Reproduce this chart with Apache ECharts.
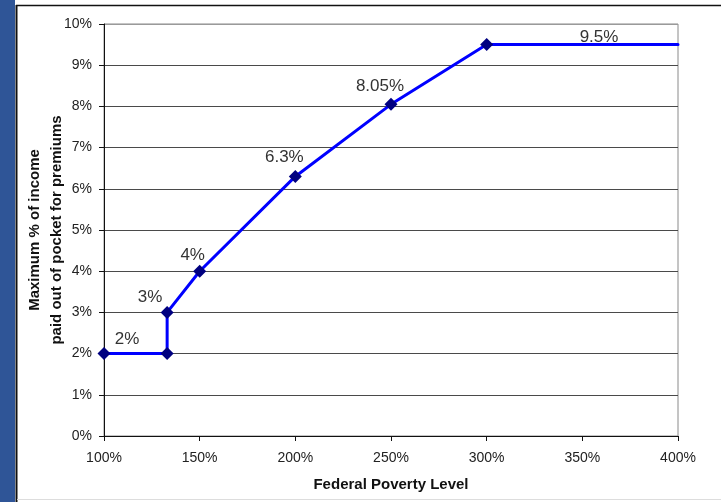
<!DOCTYPE html>
<html>
<head>
<meta charset="utf-8">
<script src="https://cdn.jsdelivr.net/npm/echarts@6/dist/echarts.min.js"></script>
<style>
  html, body { margin: 0; padding: 0; background: #fff; }
  #chart { width: 721px; height: 502px; }
</style>
</head>
<body>
<div id="chart"></div>
<script>
// federal poverty level (%) and max share of income paid for premiums (%)
var fplLevels = [100, 133, 133, 150, 200, 250, 300, 400];
var maxPct = [2, 2, 3, 4, 6.3, 8.05, 9.5, 9.5];
var pointLabels = ['2%', '', '3%', '4%', '6.3%', '8.05%', '', '9.5%'];
var yTicks = [0, 10, 1];      // min, max, step
var xTicks = [100, 400, 50];  // min, max, step
var yTitle = 'Maximum % of income\npaid out of pocket for premiums';

var myChart = echarts.init(document.getElementById('chart'));

// where each label sits relative to its point
var labelOffsets = [[23, 6], [0, 0], [-17, 5], [-7, 4], [-11, 1], [-11, 2], [0, 0], [-79, 7]];

var data = fplLevels.map(function (x, i) {
    var item = {value: [x, maxPct[i]]};
    if (i === fplLevels.length - 1) {
        // line end has no marker, only the label
        item.symbolSize = 1;
        item.itemStyle = {color: '#0000ff'};
    }
    if (pointLabels[i]) {
        item.label = {show: true, formatter: pointLabels[i], offset: labelOffsets[i]};
    }
    return item;
});

var gridColors = [];
for (var i = 0; i < 10; i++) gridColors.push('#4a4a4a');
gridColors.push('#9a9a9a');

myChart.setOption({
    animation: false,
    textStyle: {fontFamily: 'Liberation Sans, Arial, sans-serif'},
    graphic: [
        {type: 'rect', shape: {x: 0, y: 0, width: 15, height: 502}, style: {fill: '#2f5597'}, silent: true},
        {type: 'line', shape: {x1: 16.5, y1: 5, x2: 16.5, y2: 502}, style: {stroke: '#111', lineWidth: 2}, silent: true},
        {type: 'line', shape: {x1: 16, y1: 5.5, x2: 721, y2: 5.5}, style: {stroke: '#111', lineWidth: 1.5}, silent: true},
        {type: 'line', shape: {x1: 17, y1: 499.5, x2: 721, y2: 499.5}, style: {stroke: '#dddddd', lineWidth: 1}, silent: true},
        {
            type: 'text', x: 46, y: 230, rotation: Math.PI / 2, silent: true,
            style: {
                text: yTitle, align: 'center', verticalAlign: 'middle',
                font: 'bold 15px "Liberation Sans", Arial, sans-serif',
                lineHeight: 22, fill: '#111'
            }
        }
    ],
    grid: {
        left: 104, right: 43, top: 24, bottom: 66,
        show: true, borderColor: '#8a8a8a', borderWidth: 1,
        containLabel: false
    },
    xAxis: {
        type: 'value',
        min: xTicks[0], max: xTicks[1], interval: xTicks[2],
        name: 'Federal Poverty Level',
        nameLocation: 'middle',
        nameGap: 41,
        nameTextStyle: {fontWeight: 'bold', fontSize: 15, color: '#111'},
        axisLine: {show: true, lineStyle: {color: '#111', width: 1}},
        axisTick: {show: true, inside: false, length: 5, lineStyle: {color: '#111'}},
        axisLabel: {formatter: '{value}%', fontSize: 14, color: '#222', margin: 15},
        splitLine: {show: false}
    },
    yAxis: {
        type: 'value',
        min: yTicks[0], max: yTicks[1], interval: yTicks[2],
        axisLine: {show: true, lineStyle: {color: '#111', width: 1}},
        axisTick: {show: true, inside: false, length: 5, lineStyle: {color: '#111'}},
        axisLabel: {formatter: '{value}%', fontSize: 14, color: '#222', margin: 12},
        splitLine: {show: true, lineStyle: {color: gridColors, width: 1}}
    },
    series: [
        {
            name: 'Maximum premium contribution',
            type: 'line',
            data: data,
            symbol: 'diamond',
            symbolSize: 13,
            lineStyle: {color: '#0000ff', width: 3, cap: 'round'},
            itemStyle: {color: '#000080'},
            label: {show: false, position: 'top', fontSize: 17, color: '#333'},
            z: 3
        }
    ]
});
</script>
</body>
</html>
